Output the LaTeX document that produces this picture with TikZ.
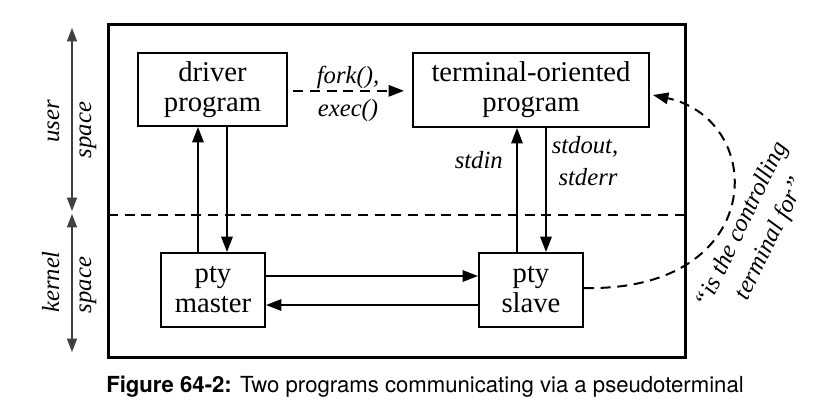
\documentclass[tikz,border=0pt]{standalone}
\usepackage{fontspec}
\setmainfont{Liberation Serif}
\newfontfamily\capfont{TeX Gyre Heros}
\usetikzlibrary{arrows.meta,calc}
\begin{document}
\begin{tikzpicture}[x=0.75pt,y=-0.75pt,
  box/.style={draw,line width=1.5pt,align=center,inner sep=0pt,
    font=\fontsize{21.5}{22.5}\selectfont},
  arr/.style={line width=1.5pt,-{Triangle[length=11.5pt,width=8.5pt]}},
  dashline/.style={line width=1.5pt,dash pattern=on 7.5pt off 5pt},
  lbl/.style={font=\fontsize{18.5}{24}\selectfont\itshape,inner sep=0pt},
  side/.style={line width=1pt,draw=black!75,
    {Triangle[length=10pt,width=7.5pt]}-{Triangle[length=10pt,width=7.5pt]}}
]
\useasboundingbox (0,0) rectangle (823,419);
% outer frame
\node[draw,line width=2.25pt,minimum width=432.75pt,minimum height=249.75pt,inner sep=0pt] (outer) at (396.5,190.5) {};
\coordinate (dl) at (108,215);
\coordinate (dr) at (685,215);
\draw[dashline] (dl) -- (dr);
% boxes
\node[box,minimum width=111.75pt,minimum height=54.75pt] (driver) at (212.5,89.5) {driver\\program};
\node[box,minimum width=177pt,minimum height=55.5pt] (term) at (531,90) {terminal-oriented\\program};
\node[box,minimum width=78pt,minimum height=55.5pt] (master) at (213,290) {pty\\master};
\node[box,minimum width=78pt,minimum height=55.5pt] (slave) at (531,290) {pty\\slave};
% fork/exec
\draw[dashline,arr,shorten <=4pt,shorten >=6pt] ([yshift=-1pt]driver.east) -- ([yshift=-1pt]driver.east -| term.west);
\node[lbl,anchor=base] (fork) at (348,83) {fork(),};
\node[lbl,anchor=base] (exec) at (348,116) {exec()};
% driver <-> master
\coordinate (m1) at ([xshift=-11.25pt]master.north);
\coordinate (m2) at ([xshift=10.5pt]master.north);
\draw[arr] (m1) -- (m1 |- driver.south);
\draw[arr] (m2 |- driver.south) -- (m2);
% slave <-> terminal
\coordinate (s1) at ([xshift=-10.5pt]slave.north);
\coordinate (s2) at ([xshift=11.25pt]slave.north);
\draw[arr] (s1) -- (s1 |- term.south);
\draw[arr] (s2 |- term.south) -- (s2);
\node[lbl,anchor=base east] (stdin) at (503,168) {stdin};
\node[lbl,anchor=base] (stdout) at (585,153) {stdout,};
\node[lbl,anchor=base] (stderr) at (588,185) {stderr};
% master <-> slave
\coordinate (h1) at ([yshift=10.5pt]master.east);
\coordinate (h2) at ([yshift=-11.25pt]slave.west);
\draw[arr] (h1) -- (h1 -| slave.west);
\draw[arr] (h2) -- (h2 -| master.east);
% controlling terminal curve
\coordinate (c0) at ([yshift=1.5pt]slave.east);
\coordinate (c1) at ([xshift=2.25pt,yshift=-3.75pt]term.east);
\draw[dashline,arr] (c0) .. controls (768,292) and (768,120) .. (c1);
\node[lbl,rotate=64,align=center] (ctl) at (757,232) {“is the controlling\\terminal for”};
% side labels
\coordinate (ut) at (72,28);
\coordinate (ub) at (72,211);
\coordinate (kt) at (72,214);
\coordinate (kb) at (72,352);
\draw[side] (ut) -- (ub);
\draw[side] (kt) -- (kb);
\node[lbl,rotate=90,anchor=base] (user) at (59,121.5) {user};
\node[lbl,rotate=90,anchor=base] (uspace) at (91,130) {space};
\node[lbl,rotate=90,anchor=base] (kernel) at (59,282) {kernel};
\node[lbl,rotate=90,anchor=base] (kspace) at (91,285) {space};
% caption
\node[anchor=base west,inner sep=0pt,font=\capfont\fontsize{16.6}{19}\selectfont] (cap) at (106,392) {\textbf{Figure 64-2:} Two programs communicating via a pseudoterminal};
\end{tikzpicture}
\end{document}
